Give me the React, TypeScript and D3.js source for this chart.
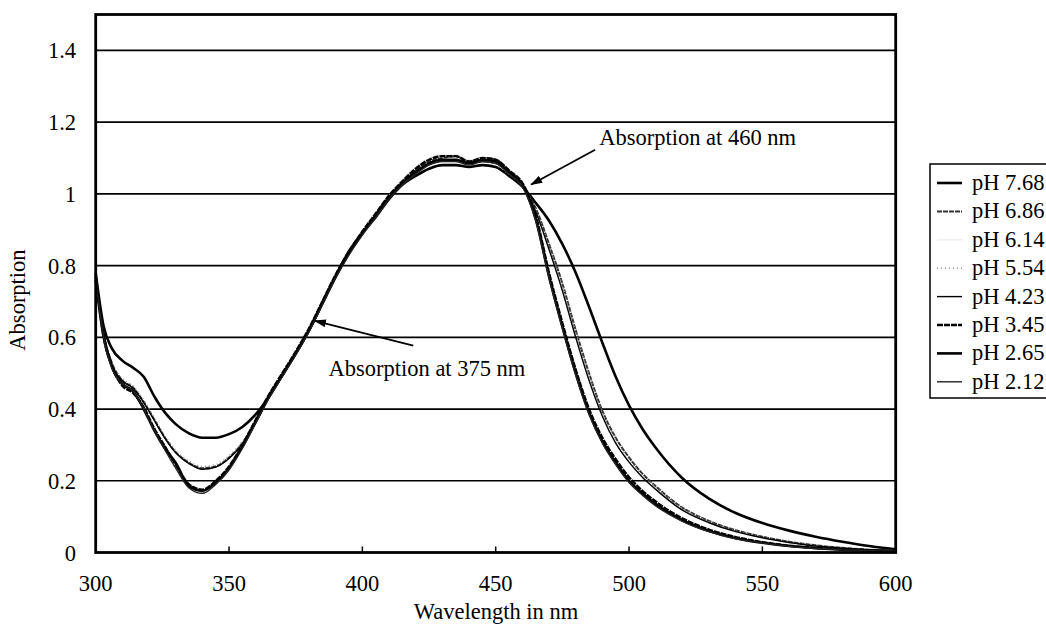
import React from "react";
import * as d3 from "d3";

// wavelength grid (nm) shared by all spectra
const wavelengths = [
  300, 303, 306, 310, 314, 318, 322, 326, 330, 335,
  340, 345, 350, 355, 360, 365, 370, 375, 380, 385,
  390, 395, 400, 405, 410, 415, 420, 425, 430, 435,
  440, 445, 450, 455, 460, 465, 470, 475, 480, 485,
  490, 495, 500, 505, 510,
  520, 530, 540, 550, 560, 570, 580, 590, 600,
];

const ph768 = [
  0.78, 0.63, 0.57, 0.535, 0.515, 0.49, 0.435, 0.39, 0.358, 0.332,
  0.32, 0.32, 0.33, 0.35, 0.385, 0.435, 0.495, 0.555, 0.62, 0.695,
  0.77, 0.84, 0.89, 0.935, 0.985, 1.025, 1.05, 1.07, 1.08, 1.08,
  1.075, 1.08, 1.075, 1.05, 1.02, 0.975, 0.925, 0.86, 0.78, 0.685,
  0.585, 0.49, 0.41, 0.345, 0.292,
  0.207, 0.15, 0.11, 0.082, 0.061, 0.044, 0.03, 0.018, 0.009,
];
const ph686 = [
  0.77, 0.61, 0.53, 0.48, 0.46, 0.42, 0.37, 0.32, 0.28, 0.25,
  0.235, 0.24, 0.265, 0.305, 0.365, 0.435, 0.495, 0.555, 0.62, 0.695,
  0.77, 0.835, 0.89, 0.94, 0.99, 1.03, 1.065, 1.09, 1.1, 1.105,
  1.09, 1.1, 1.095, 1.065, 1.025, 0.96, 0.86, 0.75, 0.62, 0.5,
  0.395, 0.32, 0.265, 0.22, 0.185,
  0.125, 0.088, 0.062, 0.044, 0.03, 0.02, 0.013, 0.008, 0.005,
];
const ph614 = [
  0.77, 0.6, 0.52, 0.47, 0.45, 0.405, 0.345, 0.29, 0.24, 0.185,
  0.17, 0.195, 0.235, 0.295, 0.365, 0.435, 0.495, 0.555, 0.62, 0.695,
  0.77, 0.835, 0.89, 0.945, 0.995, 1.04, 1.075, 1.1, 1.11, 1.11,
  1.095, 1.1, 1.09, 1.06, 1.025, 0.93, 0.775, 0.635, 0.505, 0.395,
  0.315, 0.255, 0.205, 0.168, 0.138,
  0.092, 0.062, 0.041, 0.028, 0.018, 0.012, 0.008, 0.006, 0.004,
];
const ph554 = [
  0.77, 0.61, 0.53, 0.485, 0.465, 0.425, 0.375, 0.325, 0.285, 0.255,
  0.24, 0.245, 0.27, 0.31, 0.37, 0.44, 0.5, 0.56, 0.625, 0.7,
  0.775, 0.84, 0.895, 0.945, 0.995, 1.035, 1.07, 1.095, 1.105, 1.1,
  1.085, 1.09, 1.08, 1.055, 1.02, 0.955, 0.855, 0.745, 0.615, 0.495,
  0.39, 0.315, 0.26, 0.216, 0.182,
  0.123, 0.086, 0.06, 0.043, 0.029, 0.019, 0.012, 0.008, 0.005,
];
const ph423 = [
  0.77, 0.61, 0.525, 0.478, 0.458, 0.418, 0.368, 0.318, 0.278, 0.248,
  0.232, 0.238, 0.262, 0.302, 0.362, 0.432, 0.492, 0.552, 0.617, 0.692,
  0.767, 0.832, 0.887, 0.937, 0.987, 1.027, 1.06, 1.082, 1.092, 1.095,
  1.085, 1.09, 1.085, 1.058, 1.02, 0.95, 0.845, 0.73, 0.6, 0.48,
  0.38, 0.305, 0.252, 0.21, 0.176,
  0.118, 0.083, 0.058, 0.041, 0.028, 0.018, 0.012, 0.007, 0.005,
];
const ph345 = [
  0.77, 0.6, 0.52, 0.465, 0.445, 0.405, 0.345, 0.295, 0.245, 0.19,
  0.175, 0.2, 0.24, 0.3, 0.37, 0.44, 0.5, 0.56, 0.625, 0.7,
  0.775, 0.84, 0.895, 0.945, 0.995, 1.035, 1.07, 1.095, 1.105, 1.105,
  1.09, 1.1, 1.095, 1.065, 1.03, 0.94, 0.78, 0.64, 0.51, 0.4,
  0.32, 0.26, 0.21, 0.172, 0.142,
  0.095, 0.064, 0.043, 0.029, 0.019, 0.013, 0.009, 0.006, 0.004,
];
const ph265 = [
  0.76, 0.6, 0.52, 0.47, 0.45, 0.4, 0.34, 0.29, 0.25, 0.185,
  0.172, 0.195, 0.235, 0.295, 0.365, 0.435, 0.495, 0.555, 0.62, 0.695,
  0.77, 0.835, 0.89, 0.94, 0.99, 1.03, 1.06, 1.085, 1.095, 1.095,
  1.085, 1.095, 1.09, 1.06, 1.025, 0.93, 0.77, 0.63, 0.5, 0.39,
  0.31, 0.25, 0.2, 0.165, 0.135,
  0.09, 0.06, 0.04, 0.027, 0.018, 0.012, 0.008, 0.006, 0.004,
];
const ph212 = [
  0.76, 0.6, 0.515, 0.47, 0.45, 0.4, 0.34, 0.285, 0.235, 0.18,
  0.165, 0.19, 0.23, 0.29, 0.36, 0.43, 0.49, 0.55, 0.615, 0.69,
  0.765, 0.83, 0.885, 0.935, 0.985, 1.025, 1.055, 1.08, 1.09, 1.09,
  1.08, 1.09, 1.085, 1.055, 1.02, 0.925, 0.765, 0.625, 0.495, 0.385,
  0.305, 0.245, 0.195, 0.16, 0.13,
  0.087, 0.058, 0.038, 0.026, 0.017, 0.011, 0.008, 0.005, 0.004,
];

const seriesNames = ["pH 7.68", "pH 6.86", "pH 6.14", "pH 5.54", "pH 4.23", "pH 3.45", "pH 2.65", "pH 2.12"];
const seriesValues = [ph768, ph686, ph614, ph554, ph423, ph345, ph265, ph212];

// line look per series (same order as names)
const styles = [
  { stroke: "#000", width: 2.6, dash: "" },
  { stroke: "#333", width: 2, dash: "5,1" },
  { stroke: "#efefef", width: 1.5, dash: "" },
  { stroke: "#999", width: 1.5, dash: "1,3" },
  { stroke: "#000", width: 1.4, dash: "" },
  { stroke: "#000", width: 2.4, dash: "6,1" },
  { stroke: "#000", width: 2.6, dash: "" },
  { stroke: "#222", width: 1.4, dash: "" },
];

const xTicks = [300, 350, 400, 450, 500, 550, 600];
const yTicks = [0, 0.2, 0.4, 0.6, 0.8, 1, 1.2, 1.4];

// annotations: label, text pos (nm, abs), arrow tail, arrow tip
const annLabels = ["Absorption at 460 nm", "Absorption at 375 nm"];
const annText = [[488.8, 1.137], [387.3, 0.491]];
const annTail = [[487.3, 1.123], [419.1, 0.577]];
const annTip = [[463.3, 1.026], [382.2, 0.646]];

const W = 1046;
const H = 628;
const font = "'Liberation Serif', 'Times New Roman', serif";

export default function App() {
  const x = d3.scaleLinear().domain([300, 600]).range([95.7, 895.7]);
  const y = d3.scaleLinear().domain([0, 1.5]).range([552.5, 14.5]);

  const line = d3
    .line<number>()
    .x((_, i) => x(wavelengths[i]))
    .y((d) => y(d))
    .curve(d3.curveMonotoneX);

  const legX = 930, legY = 164, legRow = 28.4;

  return (
    <svg width={W} height={H} style={{ position: "absolute", left: 0, top: 0, background: "#fff" }}
      fontFamily={font} fontSize={22.5}>
      <defs>
        <marker id="arrowhead" markerUnits="userSpaceOnUse" markerWidth="12" markerHeight="10"
          refX="11" refY="5" orient="auto">
          <path d="M0,1 L12,5 L0,9 Z" fill="#000" />
        </marker>
      </defs>

      {/* horizontal grid */}
      {yTicks.filter((t) => t > 0).map((t) => (
        <line key={t} x1={x(300)} x2={x(600)} y1={y(t)} y2={y(t)} stroke="#000" strokeWidth={1.7} />
      ))}

      {/* x ticks (inside) */}
      {xTicks.slice(1, -1).map((t) => (
        <line key={t} x1={x(t)} x2={x(t)} y1={y(0)} y2={y(0) - 6} stroke="#000" strokeWidth={1.5} />
      ))}

      {/* spectra */}
      {seriesValues.map((vals, i) => (
        <path key={seriesNames[i]} d={line(vals) || ""} fill="none" stroke={styles[i].stroke}
          strokeWidth={styles[i].width} strokeDasharray={styles[i].dash || undefined}
          strokeLinejoin="round" />
      ))}

      {/* plot frame */}
      <rect x={x(300)} y={y(1.5)} width={x(600) - x(300)} height={y(0) - y(1.5)}
        fill="none" stroke="#000" strokeWidth={2.8} />

      {/* tick labels */}
      {yTicks.map((t) => (
        <text key={t} x={76} y={y(t) + 8} textAnchor="end">{String(t)}</text>
      ))}
      {xTicks.map((t) => (
        <text key={t} x={x(t)} y={591} textAnchor="middle">{t}</text>
      ))}

      {/* axis titles */}
      <text x={496} y={619} textAnchor="middle">Wavelength in nm</text>
      <text transform="translate(25,300) rotate(-90)" textAnchor="middle">Absorption</text>

      {/* annotations */}
      {annLabels.map((lab, i) => (
        <g key={lab}>
          <line x1={x(annTail[i][0])} y1={y(annTail[i][1])} x2={x(annTip[i][0])} y2={y(annTip[i][1])}
            stroke="#000" strokeWidth={1.8} markerEnd="url(#arrowhead)" />
          <text x={x(annText[i][0])} y={y(annText[i][1])}>{lab}</text>
        </g>
      ))}

      {/* legend */}
      <rect x={legX} y={legY} width={140} height={234} fill="#fff" stroke="#000" strokeWidth={1.5} />
      {seriesNames.map((name, i) => {
        const cy = 183 + i * legRow;
        return (
          <g key={name}>
            <line x1={legX + 7} x2={legX + 32} y1={cy} y2={cy} stroke={styles[i].stroke}
              strokeWidth={styles[i].width} strokeDasharray={styles[i].dash || undefined} />
            <text x={legX + 42} y={cy + 7}>{name}</text>
          </g>
        );
      })}
    </svg>
  );
}
